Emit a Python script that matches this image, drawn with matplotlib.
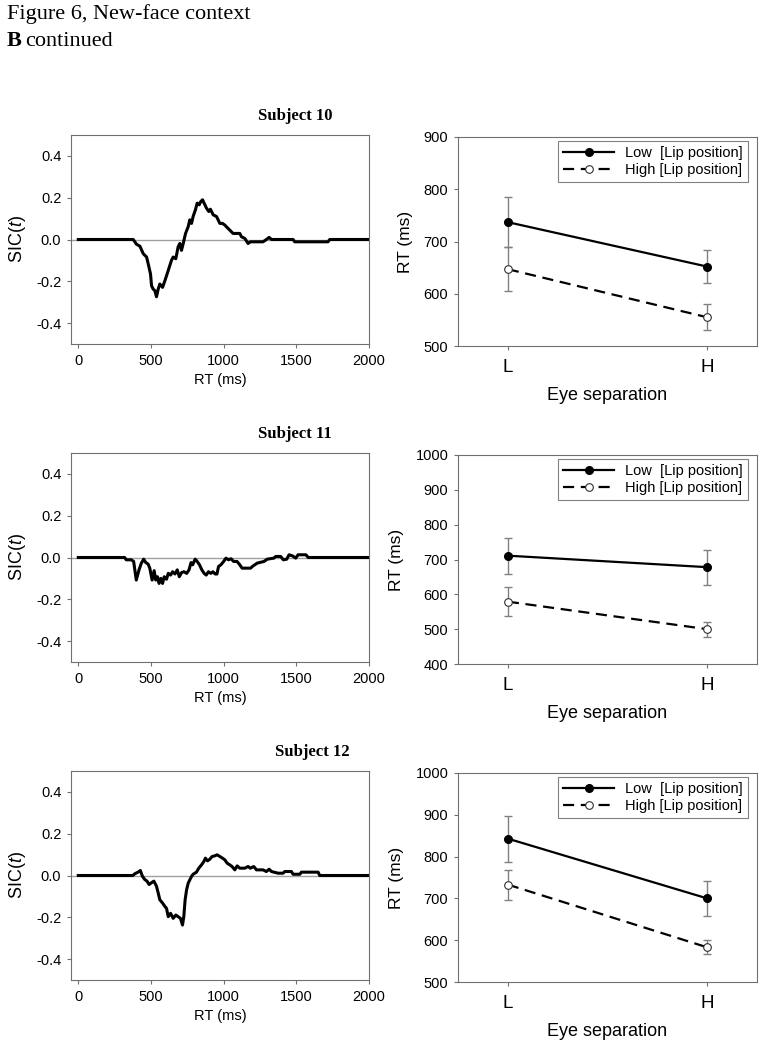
import matplotlib
matplotlib.use("Agg")
import matplotlib.pyplot as plt

plt.rcParams['font.family'] = 'Liberation Sans'
plt.rcParams['mathtext.fontset'] = 'custom'
plt.rcParams['mathtext.rm'] = 'Liberation Sans'
plt.rcParams['mathtext.it'] = 'Liberation Sans:italic'

subjects = ['Subject 10', 'Subject 11', 'Subject 12']

# SIC(t) curves
sic_t_10 = [0, 378, 401, 424, 447, 470, 481, 497, 504, 515, 527, 538, 550, 561, 580,
            596, 619, 641, 653, 671, 687, 699, 710, 722, 738, 756, 767, 779, 790, 806,
            818, 832, 843, 855, 871, 882, 898, 909, 928, 951, 974, 992, 1008, 1019,
            1042, 1065, 1111, 1123, 1146, 1168, 1184, 1271, 1294, 1313, 1329, 1478,
            1489, 1718, 1730, 2000]
sic_10 = [0, 0, -0.023, -0.032, -0.068, -0.084, -0.116, -0.165, -0.221, -0.237, -0.245,
          -0.274, -0.237, -0.213, -0.229, -0.197, -0.148, -0.1, -0.084, -0.092, -0.035,
          -0.019, -0.052, -0.019, 0.029, 0.061, 0.094, 0.077, 0.11, 0.142, 0.174, 0.166,
          0.182, 0.19, 0.166, 0.15, 0.134, 0.145, 0.118, 0.11, 0.077, 0.077, 0.069,
          0.061, 0.045, 0.029, 0.029, 0.013, 0.005, -0.019, -0.011, -0.011, 0, 0.01, 0,
          0, -0.011, -0.011, 0, 0]

sic_t_11 = [0, 319, 330, 365, 381, 399, 418, 434, 450, 464, 480, 492, 508, 522, 533,
            545, 556, 568, 580, 591, 607, 619, 635, 649, 665, 681, 695, 711, 727, 746,
            762, 776, 787, 804, 815, 834, 850, 866, 880, 896, 912, 926, 942, 954, 965,
            981, 1000, 1016, 1034, 1051, 1069, 1092, 1108, 1127, 1185, 1203, 1231, 1277,
            1300, 1346, 1358, 1392, 1411, 1434, 1450, 1473, 1496, 1512, 1566, 1582, 2000]
sic_11 = [0, 0, -0.011, -0.011, -0.019, -0.108, -0.059, -0.027, -0.008, -0.024, -0.031,
          -0.051, -0.108, -0.063, -0.108, -0.092, -0.124, -0.1, -0.124, -0.092, -0.104,
          -0.076, -0.084, -0.068, -0.079, -0.059, -0.092, -0.072, -0.068, -0.076, -0.059,
          -0.024, -0.035, -0.008, -0.016, -0.035, -0.059, -0.076, -0.084, -0.068, -0.076,
          -0.068, -0.079, -0.079, -0.043, -0.035, -0.019, -0.003, -0.011, -0.006, -0.019,
          -0.019, -0.032, -0.051, -0.051, -0.04, -0.027, -0.019, -0.008, -0.003, 0.005,
          0.005, -0.011, -0.008, 0.013, 0.008, -0.003, 0.013, 0.013, 0, 0]

sic_t_12 = [0, 376, 388, 411, 427, 441, 457, 473, 487, 503, 520, 538, 550, 561, 580,
            596, 607, 619, 635, 653, 671, 687, 703, 717, 726, 735, 745, 756, 767, 779,
            790, 813, 829, 848, 864, 875, 889, 905, 921, 939, 955, 974, 992, 1008, 1024,
            1042, 1058, 1077, 1093, 1111, 1146, 1168, 1184, 1207, 1226, 1271, 1294, 1313,
            1329, 1375, 1409, 1420, 1466, 1478, 1524, 1535, 1650, 1661, 2000]
sic_12 = [0, 0, 0.008, 0.016, 0.024, -0.003, -0.019, -0.027, -0.043, -0.035, -0.027,
          -0.051, -0.084, -0.116, -0.132, -0.148, -0.157, -0.197, -0.181, -0.205, -0.189,
          -0.197, -0.205, -0.237, -0.197, -0.117, -0.069, -0.037, -0.021, -0.005, 0.006,
          0.016, 0.035, 0.051, 0.067, 0.083, 0.07, 0.078, 0.091, 0.094, 0.099, 0.091,
          0.083, 0.075, 0.059, 0.051, 0.043, 0.027, 0.046, 0.035, 0.035, 0.043, 0.035,
          0.043, 0.027, 0.027, 0.019, 0.03, 0.019, 0.011, 0.011, 0.019, 0.019, 0.006,
          0.006, 0.016, 0.016, 0, 0]

sic_times = [sic_t_10, sic_t_11, sic_t_12]
sic_values = [sic_10, sic_11, sic_12]

# mean RT for eye separation L / H
eye_levels = ['L', 'H']
low_means = [[737, 652], [711, 678], [843, 700]]
low_errs = [[48, 31], [52, 50], [55, 42]]
high_means = [[647, 555], [579, 500], [733, 583]]
high_errs = [[42, 25], [42, 22], [36, 17]]
rt_ticks = [[500, 600, 700, 800, 900],
            [400, 500, 600, 700, 800, 900, 1000],
            [500, 600, 700, 800, 900, 1000]]

W, H = 767, 1050
fig = plt.figure(figsize=(W / 100, H / 100), dpi=100)

fig.text(7 / W, 1 - 19 / H, 'Figure 6, New-face context', family='Liberation Serif',
         fontsize=16, va='baseline', ha='left')
fig.text(7 / W, 1 - 46 / H, 'B', family='Liberation Serif', fontsize=16,
         fontweight='bold', va='baseline', ha='left')
fig.text(25 / W, 1 - 46 / H, 'continued', family='Liberation Serif', fontsize=16,
         va='baseline', ha='left')

spine_col = '#707070'
left_tops = [135, 453, 771]
right_tops = [137, 455, 773]
title_x = [295, 295, 312]

for i in range(3):
    # SIC panel
    ax = fig.add_axes([71 / W, 1 - (left_tops[i] + 209) / H, 298 / W, 209 / H])
    ax.axhline(0, color='#a0a0a0', lw=1, zorder=1)
    ax.plot(sic_times[i], sic_values[i], color='black', lw=2.2, zorder=2)
    ax.set_xlim(-50, 2000)
    ax.set_ylim(-0.5, 0.5)
    ax.set_xticks([0, 500, 1000, 1500, 2000])
    ax.set_yticks([-0.4, -0.2, 0.0, 0.2, 0.4])
    ax.set_yticklabels(['-0.4', '-0.2', '0.0', '0.2', '0.4'])
    ax.tick_params(direction='out', length=3, width=0.8, color=spine_col,
                   labelsize=10.5, pad=4)
    for s in ax.spines.values():
        s.set_color(spine_col)
        s.set_linewidth(0.8)
    ax.set_xlabel('RT (ms)', fontsize=10.5, labelpad=4)
    ax.set_ylabel(r'SIC($\mathit{t}$)', fontsize=13, labelpad=6)
    fig.text(title_x[i] / W, 1 - (left_tops[i] - 15) / H, subjects[i],
             family='Liberation Serif', fontweight='bold', fontsize=12,
             ha='center', va='baseline')

    # RT panel
    ax2 = fig.add_axes([458 / W, 1 - (right_tops[i] + 209) / H, 299 / W, 209 / H])
    x = [0, 1]
    ax2.errorbar(x, low_means[i], yerr=low_errs[i], fmt='none', ecolor='#808080',
                 elinewidth=1, capsize=3, capthick=1, zorder=1)
    ax2.errorbar(x, high_means[i], yerr=high_errs[i], fmt='none', ecolor='#808080',
                 elinewidth=1, capsize=3, capthick=1, zorder=1)
    ax2.plot(x, low_means[i], color='black', lw=1.6, marker='o', markersize=5.5,
             markerfacecolor='black', markeredgecolor='black',
             label='Low  [Lip position]', zorder=3)
    ax2.plot(x, high_means[i], color='black', lw=1.6, linestyle=(0, (5, 3)), marker='o',
             markersize=5.5, markerfacecolor='white', markeredgecolor='#303030',
             markeredgewidth=0.8, label='High [Lip position]', zorder=3)
    ax2.set_xlim(-0.25, 1.25)
    ax2.set_ylim(rt_ticks[i][0], rt_ticks[i][-1])
    ax2.set_yticks(rt_ticks[i])
    ax2.set_xticks(x)
    ax2.set_xticklabels(eye_levels)
    ax2.tick_params(axis='y', direction='out', length=3, width=0.8, color=spine_col,
                    labelsize=10.5, pad=4)
    ax2.tick_params(axis='x', direction='out', length=3, width=0.8, color=spine_col,
                    labelsize=13.5, pad=6)
    for s in ax2.spines.values():
        s.set_color(spine_col)
        s.set_linewidth(0.8)
    ax2.set_xlabel('Eye separation', fontsize=13, labelpad=8)
    ax2.set_ylabel('RT (ms)', fontsize=12.5, labelpad=8)
    leg = ax2.legend(loc='upper right', bbox_to_anchor=(0.97, 0.981), borderaxespad=0,
                     fontsize=10.5, handlelength=3.5, handletextpad=0.75,
                     labelspacing=0.2, borderpad=0.35, fancybox=False, framealpha=1)
    leg.get_frame().set_edgecolor('#808080')
    leg.get_frame().set_linewidth(0.8)

fig.savefig('out.png', dpi=100)
